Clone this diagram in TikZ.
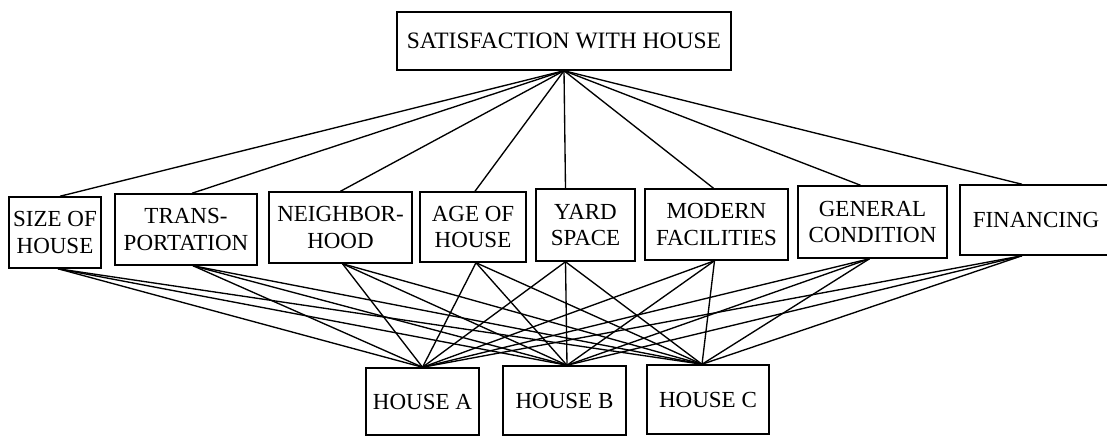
\documentclass[tikz,border=0pt]{standalone}
\usepackage{fontspec}
\setmainfont{Liberation Serif}
\begin{document}
\begin{tikzpicture}[x=1pt,y=-1pt,
  box/.style={draw, line width=1.5pt, inner sep=0pt, align=center,
    font=\fontsize{23}{26.5}\selectfont},
  link/.style={line width=1.35pt}]
\useasboundingbox (0,0) rectangle (1107,436);
\clip (0,0) rectangle (1107,436);
% top
\node[box, minimum width=334pt, minimum height=58pt, font=\fontsize{23.5}{26}\selectfont] (t) at (564,41) {SATISFACTION WITH HOUSE};
% criteria
\node[box, minimum width=92pt,  minimum height=71pt] (m1) at (55,232.5)   {SIZE OF\\HOUSE};
\node[box, minimum width=142pt, minimum height=71pt] (m2) at (186,229.5)  {TRANS-\\PORTATION};
\node[box, minimum width=143pt, minimum height=71pt] (m3) at (340.5,227.5) {NEIGHBOR-\\HOOD};
\node[box, minimum width=106pt, minimum height=70pt] (m4) at (473,227)    {AGE OF\\HOUSE};
\node[box, minimum width=99pt,  minimum height=72pt] (m5) at (585.5,225)  {YARD\\SPACE};
\node[box, minimum width=143pt, minimum height=71pt] (m6) at (716.5,224.5) {MODERN\\FACILITIES};
\node[box, minimum width=149pt, minimum height=72pt] (m7) at (872.5,222)  {GENERAL\\CONDITION};
\node[box, minimum width=152pt, minimum height=70pt] (m8) at (1036,220)   {FINANCING};
% alternatives
\node[box, minimum width=113pt, minimum height=67pt] (ha) at (422.5,401.5) {HOUSE A};
\node[box, minimum width=123pt, minimum height=69pt] (hb) at (564.5,400.5) {HOUSE B};
\node[box, minimum width=122pt, minimum height=69pt] (hc) at (708,399.5)   {HOUSE C};
% connectors
\foreach \n/\a/\b in {m1/5/3, m2/6/7, m3/0/2, m4/2/3, m5/-20/-20, m6/-3/-2, m7/-12/-3, m8/-14/-14}{
  \draw[link] (t.south) -- ([xshift=\a pt]\n.north);
  \foreach \h/\c in {ha/0, hb/2.5, hc/-6}{
    \draw[link] ([xshift=\b pt]\n.south) -- ([xshift=\c pt]\h.north);
  }
}
\end{tikzpicture}
\end{document}
